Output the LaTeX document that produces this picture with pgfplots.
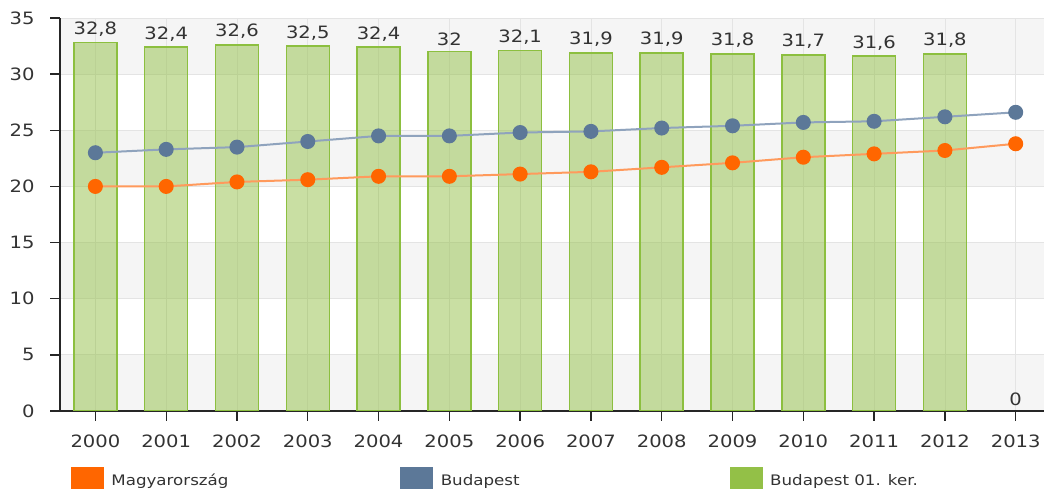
\documentclass[border=0pt]{standalone}
\usepackage{fontspec}
\setmainfont{DejaVu Sans}[FakeStretch=1.15]
\usepackage{pgfplots}
\pgfplotsset{compat=1.18}
\definecolor{txt}{HTML}{333333}
\definecolor{barfill}{HTML}{93C047}
\definecolor{baredge}{HTML}{8CBF3F}
\definecolor{bluem}{HTML}{5C7898}
\definecolor{bluel}{HTML}{8FA3BD}
\definecolor{orangem}{HTML}{FF6600}
\definecolor{orangel}{HTML}{FF9A5C}
\definecolor{band}{HTML}{F5F5F5}
\definecolor{gridc}{HTML}{E4E4E4}
\begin{document}
\begin{tikzpicture}
\begin{axis}[
  set layers,
  scale only axis, width=984pt, height=393pt,
  xmin=-0.5, xmax=13.4, ymin=0, ymax=35,
  xtick={0,...,13},
  xticklabels={2000,2001,2002,2003,2004,2005,2006,2007,2008,2009,2010,2011,2012,2013},
  ytick={0,5,...,35},
  axis x line*=bottom, axis y line*=left,
  axis line style={-, draw=black!85, line width=1.7pt},
  tick align=outside,
  major tick length=10pt,
  tick style={draw=black!85, line width=1.3pt},
  xmajorgrids, ymajorgrids,
  grid style={draw=gridc, line width=0.8pt},
  /pgf/number format/assume math mode=true,
  ticklabel style={font=\fontsize{17}{19}\selectfont, color=txt},
  yticklabel style={xshift=-12pt},
  xticklabel style={yshift=-10pt},
  legend style={at={(0,0)}, anchor=north west, xshift=11pt, yshift=-56pt,
    draw=none, fill=none, inner sep=0pt, outer sep=0pt,
    nodes={inner sep=0pt, outer sep=0pt},
    font=\fontsize{14.5}{16}\selectfont, text=txt},
  legend columns=3,
  legend cell align=left,
  barlab/.style={nodes near coords,
    nodes near coords style={font=\fontsize{17}{19}\selectfont, text=txt, text opacity=1, anchor=south, yshift=2pt,
      /pgf/number format/use comma, /pgf/number format/assume math mode=true}},
]
\begin{pgfonlayer}{axis background}
\fill[band] (axis cs:-0.5,0) rectangle (axis cs:13.4,5);
\fill[band] (axis cs:-0.5,10) rectangle (axis cs:13.4,15);
\fill[band] (axis cs:-0.5,20) rectangle (axis cs:13.4,25);
\fill[band] (axis cs:-0.5,30) rectangle (axis cs:13.4,35);
\end{pgfonlayer}
\coordinate (bl) at (rel axis cs:0,0);
\coordinate (tr) at (rel axis cs:1,1);

\addplot[ybar, bar width=43pt, fill=barfill, fill opacity=0.5, draw=baredge, line width=1.5pt,
  barlab, forget plot]
coordinates {(0,32.8)(1,32.4)(2,32.6)(3,32.5)(4,32.4)(5,32)(6,32.1)(7,31.9)(8,31.9)(9,31.8)(10,31.7)(11,31.6)(12,31.8)};
\addplot[ybar, bar width=43pt, draw=none, fill=none, barlab, forget plot]
coordinates {(13,0)};

\addplot[color=bluel, line width=2pt, mark=*, mark size=6.5pt,
  mark options={draw=bluem, fill=bluem}, forget plot]
coordinates {(0,23.0)(1,23.3)(2,23.5)(3,24.0)(4,24.5)(5,24.5)(6,24.8)(7,24.9)(8,25.2)(9,25.4)(10,25.7)(11,25.8)(12,26.2)(13,26.6)};

\addplot[color=orangel, line width=2pt, mark=*, mark size=6.5pt,
  mark options={draw=orangem, fill=orangem}, forget plot]
coordinates {(0,20.0)(1,20.0)(2,20.4)(3,20.6)(4,20.9)(5,20.9)(6,21.1)(7,21.3)(8,21.7)(9,22.1)(10,22.6)(11,22.9)(12,23.2)(13,23.8)};

\addlegendimage{legend image code/.code={\fill[orangem] (0pt,-15pt) rectangle (32pt,18pt); \path (40pt,0pt);}}
\addlegendentry{\raisebox{9pt}{\makebox[289pt][l]{Magyarország}}}
\addlegendimage{legend image code/.code={\fill[bluem] (0pt,-15pt) rectangle (32pt,18pt); \path (40pt,0pt);}}
\addlegendentry{\raisebox{9pt}{\makebox[289pt][l]{Budapest}}}
\addlegendimage{legend image code/.code={\fill[barfill] (0pt,-15pt) rectangle (32pt,18pt); \path (40pt,0pt);}}
\addlegendentry{\raisebox{9pt}{\makebox[100pt][l]{Budapest 01. ker.}}}
\end{axis}
\pgfresetboundingbox
\path[use as bounding box] ([xshift=-60pt,yshift=-78pt]bl) rectangle ([yshift=18pt]tr);
\end{tikzpicture}
\end{document}
